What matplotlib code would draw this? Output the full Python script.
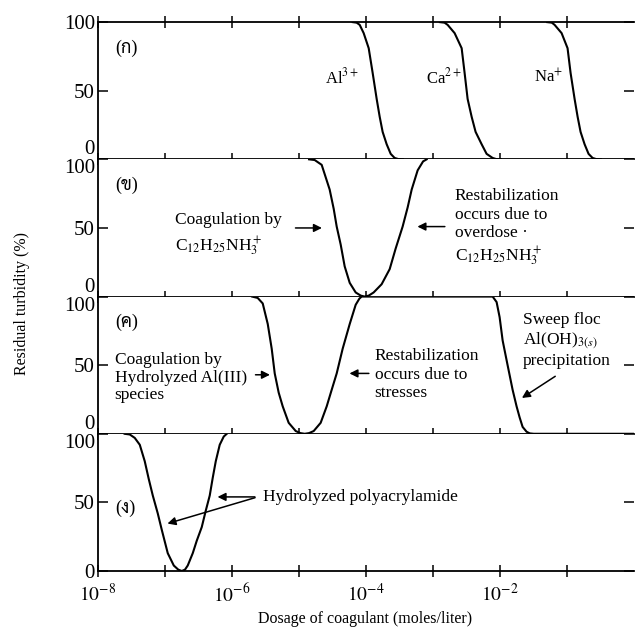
import numpy as np
import matplotlib.pyplot as plt

plt.rcParams['font.family'] = ['Liberation Serif', 'DejaVu Sans']
plt.rcParams['mathtext.fontset'] = 'stix'
thai_family = ['Liberation Serif', 'Sarabun', 'Noto Serif Thai', 'Noto Sans Thai', 'Athiti']

# log10(dosage, moles/liter) and residual turbidity (%)
al_logx = [-4.2, -4.14, -4.095, -4.036, -3.961, -3.902, -3.842, -3.797, -3.753, -3.693, -3.633, -3.574, -3.52, -3.45]
ca_logx = [-2.9, -2.83, -2.784, -2.68, -2.575, -2.531, -2.486, -2.426, -2.367, -2.277, -2.203, -2.113, -2.06, -1.99]
na_logx = [-1.3, -1.23, -1.189, -1.085, -0.996, -0.951, -0.891, -0.846, -0.802, -0.742, -0.683, -0.623, -0.57, -0.5]
ion_y = [100, 99.6, 98, 92, 81, 63, 44, 31, 20, 11, 4, 1, 0.2, 0]

cat_logx = [-4.85, -4.766, -4.662, -4.543, -4.483, -4.438, -4.379, -4.319, -4.244, -4.155, -4.08, -4.021,
            -3.96, -3.887, -3.768, -3.648, -3.559, -3.455, -3.38, -3.32, -3.231, -3.15, -3.097]
cat_y = [100, 99.5, 96, 78, 64, 51, 38, 22, 10, 3, 0.7, 0,
         0.7, 3, 9, 20, 35, 51, 65, 78, 92, 98.5, 100]

alum_logx = [-5.7, -5.616, -5.541, -5.466, -5.407, -5.362, -5.303, -5.243, -5.154, -5.049, -4.98, -4.915,
             -4.85, -4.781, -4.677, -4.587, -4.513, -4.438, -4.349, -4.244, -4.155, -4.1, -4.066,
             -2.113, -2.054, -2.009, -1.964, -1.89, -1.815, -1.756, -1.711, -1.666, -1.607, -1.56, -1.5, 0.0]
alum_y = [100, 99, 95, 80, 62, 44, 30, 20, 8, 2, 0.5, 0,
          0.5, 2, 8, 20, 32, 44, 62, 80, 94, 98.5, 100,
          100, 96, 85, 68, 50, 32, 20, 12, 5, 1.5, 0.3, 0, 0]

poly_logx = [-7.6, -7.523, -7.449, -7.374, -7.3, -7.24, -7.18, -7.106, -7.046, -6.957, -6.867, -6.8, -6.748,
             -6.7, -6.659, -6.584, -6.525, -6.45, -6.39, -6.331, -6.286, -6.241, -6.182, -6.122, -6.077]
poly_y = [100, 99.5, 97, 92, 80, 67, 55, 42, 30, 13, 4, 1, 0,
          1, 4, 13, 22, 32, 44, 55, 68, 80, 92, 98, 100]

panel_labels = ['(ก)', '(ข)', '(ค)', '(ง)']
xtick_exp = [-8, -7, -6, -5, -4, -3, -2, -1]
xlabel_exp = [-8, -6, -4, -2]

fig = plt.figure(figsize=(6.35, 6.32), dpi=100)
axes = fig.subplots(4, 1, sharex=True)
fig.subplots_adjust(left=0.154, right=0.999, top=0.965, bottom=0.0965, hspace=0)

def d(e):
    return 10.0 ** np.asarray(e)

line = dict(c='black', lw=1.5, solid_joinstyle='round')
axes[0].plot(d(al_logx), ion_y, **line)
axes[0].plot(d(ca_logx), ion_y, **line)
axes[0].plot(d(na_logx), ion_y, **line)
axes[1].plot(d(cat_logx), cat_y, **line)
axes[2].plot(d(alum_logx), alum_y, **line)
axes[3].plot(d(poly_logx), poly_y, **line)

for i, ax in enumerate(axes):
    ax.set_xscale('log')
    ax.set_xlim(1e-8, 1e0)
    ax.set_ylim(0, 100)
    ax.spines['right'].set_visible(False)
    for s in ['left', 'top', 'bottom']:
        ax.spines[s].set_linewidth(1.3)
    if i > 0:
        ax.spines['top'].set_visible(False)
    ax.set_yticks([0, 50, 100])
    ax.set_yticklabels(['0', '50', '100'], fontsize=15)
    labs = ax.get_yticklabels()
    if i < 3:
        labs[0].set_verticalalignment('bottom')
    if i > 0:
        labs[2].set_verticalalignment('top')
    ax.tick_params(axis='y', direction='in', length=7, width=1.1, right=True, pad=2)
    ax.set_xticks(d(xtick_exp))
    ax.xaxis.set_minor_locator(plt.NullLocator())
    ax.tick_params(axis='x', direction='inout', length=9, width=1.1, top=(i == 0))
    ax.text(0.032, 0.81 if i < 3 else 0.46, panel_labels[i], transform=ax.transAxes,
            fontsize=13, va='center', family=thai_family)

axes[3].set_xticklabels(['$10^{%d}$' % e if e in xlabel_exp else '' for e in xtick_exp], fontsize=14)
axes[3].tick_params(axis='x', pad=4)

# panel 1
axes[0].text(d(-4.11), 60, 'Al$^{3+}$', ha='right', va='center', fontsize=12)
axes[0].text(d(-2.575), 60, 'Ca$^{2+}$', ha='right', va='center', fontsize=12)
axes[0].text(d(-1.07), 60, 'Na$^{+}$', ha='right', va='center', fontsize=12)

arrow = dict(arrowstyle='-|>', color='black', lw=1.1, mutation_scale=12)

# panel 2
axes[1].text(d(-6.853), 45, 'Coagulation by\nC$_{12}$H$_{25}$NH$_3^+$', va='center', fontsize=12.5,
             linespacing=1.4)
axes[1].annotate('', xy=(d(-4.617), 50), xytext=(d(-5.094), 50), arrowprops=arrow)
axes[1].text(d(-2.68), 50, 'Restabilization\noccurs due to\noverdose ·\nC$_{12}$H$_{25}$NH$_3^+$',
             va='center', fontsize=12.5, linespacing=1.2)
axes[1].annotate('', xy=(d(-3.276), 51), xytext=(d(-2.784), 51), arrowprops=arrow)

# panel 3
axes[2].text(d(-7.75), 41, 'Coagulation by\nHydrolyzed Al(III)\nspecies', va='center', fontsize=12.5,
             linespacing=1.15)
axes[2].annotate('', xy=(d(-5.392), 43), xytext=(d(-5.69), 43), arrowprops=arrow)
axes[2].text(d(-3.872), 43, 'Restabilization\noccurs due to\nstresses', va='center', fontsize=12.5,
             linespacing=1.2)
axes[2].annotate('', xy=(d(-4.289), 44), xytext=(d(-3.917), 44), arrowprops=arrow)
axes[2].text(d(-1.666), 68, 'Sweep floc\nAl(OH)$_{3(s)}$\nprecipitation', va='center', fontsize=12.5,
             linespacing=1.15)
axes[2].annotate('', xy=(d(-1.711), 25), xytext=(d(-1.145), 43), arrowprops=arrow)

# panel 4
axes[3].text(d(-5.541), 54, 'Hydrolyzed polyacrylamide', va='center', fontsize=12.5)
axes[3].annotate('', xy=(d(-6.256), 54), xytext=(d(-5.616), 54), arrowprops=arrow)
axes[3].annotate('', xy=(d(-7.001), 34), xytext=(d(-5.616), 54), arrowprops=arrow)

fig.text(0.035, 0.52, 'Residual turbidity (%)', rotation=90, ha='center', va='center', fontsize=11.5)
fig.text(0.575, 0.02, 'Dosage of coagulant (moles/liter)', ha='center', va='center', fontsize=11.5)

plt.savefig('out.png', dpi=100)
